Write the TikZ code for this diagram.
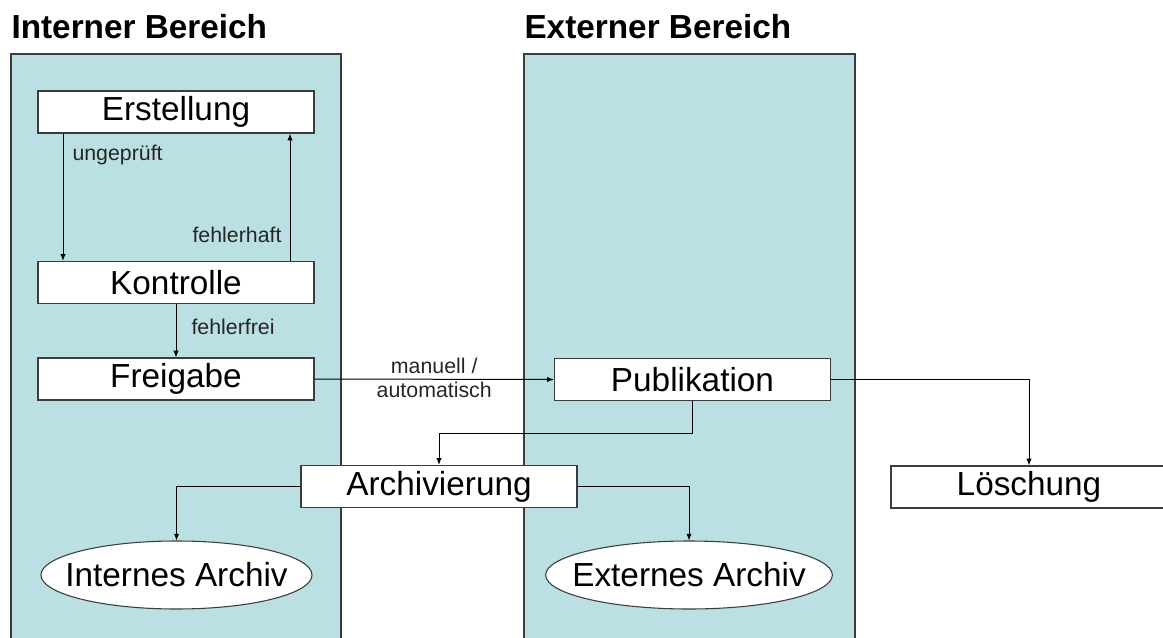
\documentclass[tikz,border=0pt]{standalone}
\usepackage{fontspec}
\setmainfont{Liberation Sans}
\usetikzlibrary{arrows.meta,shapes.geometric}

\definecolor{panelblue}{RGB}{187,224,227}
\definecolor{edgegray}{RGB}{60,60,60}

\tikzset{every picture/.style={line width=0.75pt}}
\tikzset{
	stepbox/.style={draw=edgegray, fill=white, line width=0.9pt, minimum width=207pt, minimum height=31.5pt, inner sep=0pt, font=\fontsize{25}{29}\selectfont},
	archiv/.style={ellipse, draw=edgegray, fill=white, line width=0.8pt, minimum width=200pt, minimum height=51pt, inner xsep=-11.5pt, inner ysep=0pt, font=\fontsize{25}{29}\selectfont},
	lbl/.style={inner sep=0pt, font=\fontsize{16}{19}\selectfont, text=black!85},
	ttl/.style={inner sep=0pt, font=\fontsize{25}{30}\selectfont\bfseries},
	arr/.style={draw=black, line width=0.75pt, -{Latex[length=5pt,width=4pt]}}
}

\begin{document}
\begin{tikzpicture}[x=0.75pt,y=0.75pt,yscale=-1,xscale=1]
	\useasboundingbox (0,0) rectangle (1163,638);

	%Shape: Rectangle [id:internal area]
	\draw [draw=edgegray, fill=panelblue, line width=0.9pt] (11,54) rectangle (341,660) ;
	%Shape: Rectangle [id:external area]
	\draw [draw=edgegray, fill=panelblue, line width=0.9pt] (524,54) rectangle (855,660) ;

	% Titles
	\node [ttl, anchor=base west] (tint) at (11,39) {Interner Bereich};
	\node [ttl, anchor=base west] (text) at (524,39) {Externer Bereich};

	% Boxes
	\node [stepbox] (erst) at (176,112) {Erstellung};
	\node [stepbox] (kontr) at (176,282.5) {Kontrolle};
	\node [stepbox] (frei) at (176,379) {Freigabe};
	\node [stepbox] (pub) at (692.5,379.5) {Publikation};
	\node [stepbox] (arch) at (439,486.5) {Archivierung};
	\node [stepbox] (loesch) at (1029,487) {Löschung};

	% Ellipses
	\node [archiv] (intarch) at (176.5,575) {Internes Archiv};
	\node [archiv] (extarch) at (689,575) {Externes Archiv};

	% Arrows
	\draw [arr] (63,0 |- erst.south) -- (63,0 |- kontr.north) ;
	\draw [arr] (290,0 |- kontr.north) -- (290,0 |- erst.south) ;
	\draw [arr] (kontr.south) -- (frei.north) ;
	\draw [arr] (frei.east) -- (pub.west)
		node [lbl, midway, above=4pt] {manuell /}
		node [lbl, midway, below=2pt] {automatisch} ;
	\draw [arr] (pub.south) -- (pub.south |- 0,433) -| (arch.north) ;
	\draw [arr] (arch.west) -| (intarch.north) ;
	\draw [arr] (arch.east) -| (extarch.north) ;
	\draw [arr] (pub.east) -| (loesch.north) ;

	% Text Node
	\node [lbl, anchor=base west] (ungep) at (72,161) {ungeprüft};
	% Text Node
	\node [lbl, anchor=base east] (fehlh) at (282,242) {fehlerhaft};
	% Text Node
	\node [lbl, anchor=base west] (fehlf) at (191,334) {fehlerfrei};

\end{tikzpicture}
\end{document}
